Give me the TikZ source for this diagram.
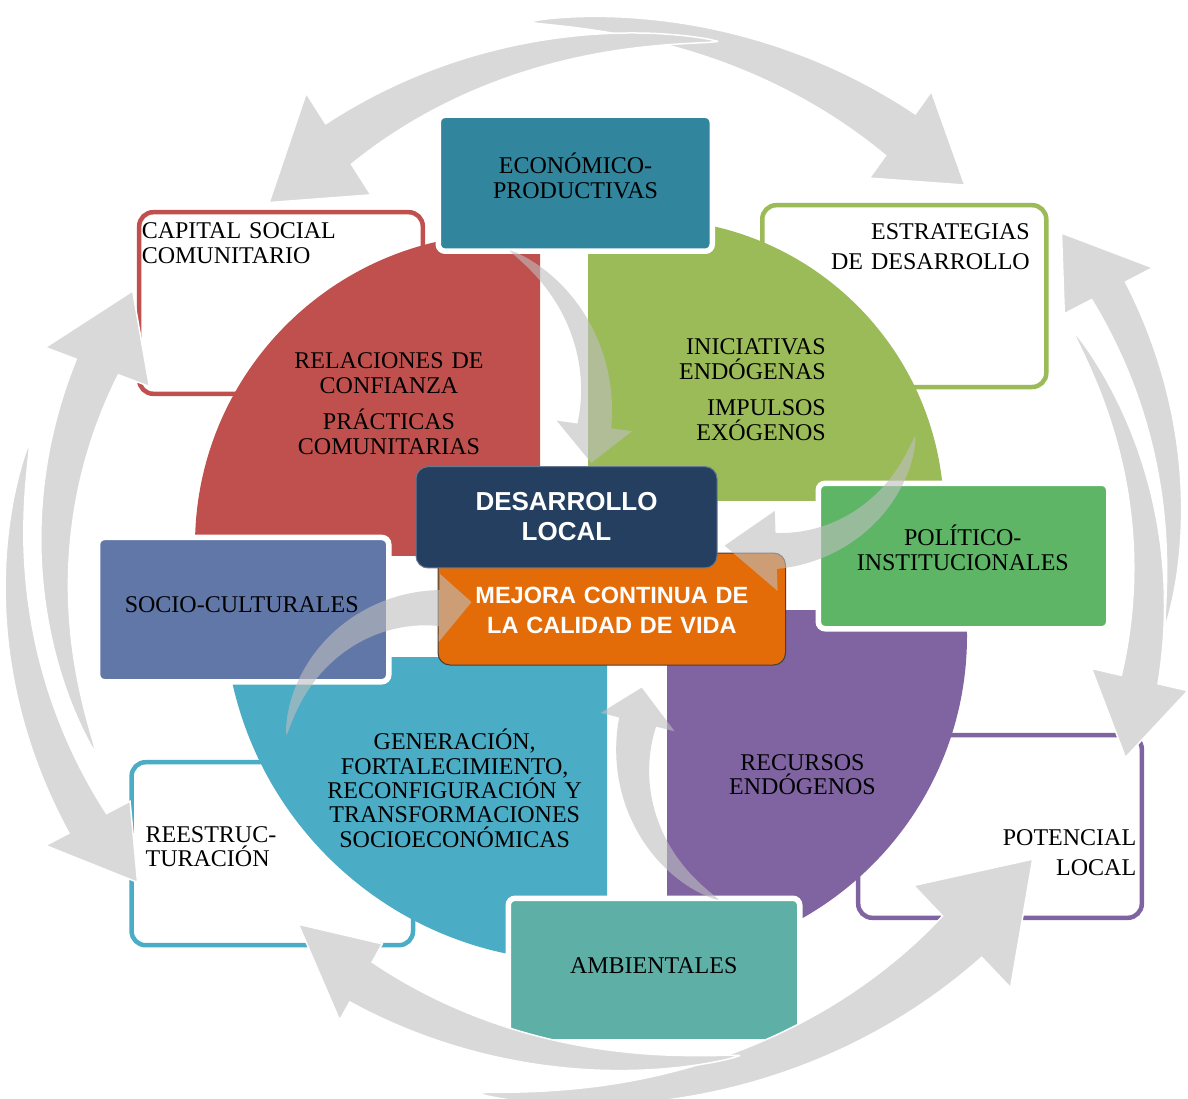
\documentclass[tikz,border=0pt]{standalone}
\usepackage{fontspec}
\setmainfont{Liberation Serif}
\newfontfamily\hsans{Liberation Sans}
\definecolor{cRed}{HTML}{C0504D}
\definecolor{cGreen}{HTML}{9BBB59}
\definecolor{cBlue}{HTML}{4BACC6}
\definecolor{cPurple}{HTML}{8064A2}
\definecolor{cEcon}{HTML}{31859C}
\definecolor{cPol}{HTML}{5DB565}
\definecolor{cSoc}{HTML}{6077A8}
\definecolor{cAmb}{HTML}{5EAFA5}
\definecolor{cNavy}{HTML}{243F60}
\definecolor{cOrange}{HTML}{E36C09}
\definecolor{cGray}{HTML}{D9D9D9}
\definecolor{cInner}{HTML}{BFBFBF}
\tikzset{
  outlinebox/.style={draw=#1, line width=4.5pt, fill=white, rounded corners=14pt, inner sep=0pt},
  solidbox/.style={fill=#1, draw=white, line width=5.5pt, rounded corners=7pt, inner sep=0pt},
  lbl/.style={font=\fontsize{24}{25}\selectfont, inner sep=0pt, text=black},
  wlbl/.style={font=\hsans\bfseries\fontsize{#1}{30}\selectfont, inner sep=0pt, text=white, align=center},
  ringarrow/.style={fill=cGray, draw=white, line width=1.5pt},
  innerarrow/.style={fill=cInner, fill opacity=0.6, draw=none},
}
% #2 tail angle, #3 head-base angle, #4 tip angle, #5 tail radius,
% #6 base mid radius, #7 band width at base, #8 head half width, #9 tip radius
\newcommand\tarrow[9][ringarrow]{%
  \path[#1] plot[domain=0.001:1,samples=50,variable=\t]
    ({(#2)+\t*((#3)-(#2))}:{(#5)+\t*((#6)-(#5))+0.5*(#7)*\t^0.7})
    -- ({#3}:{(#6)+(#8)}) -- ({#4}:{#9}) -- ({#3}:{(#6)-(#8)})
    -- plot[domain=1:0.001,samples=50,variable=\t]
    ({(#2)+\t*((#3)-(#2))}:{(#5)+\t*((#6)-(#5))-0.5*(#7)*\t^0.7}) -- cycle;}
\begin{document}
\begin{tikzpicture}[x=1pt,y=-1pt]
\useasboundingbox (0,0) rectangle (1188,1099);
\fill[white] (0,0) rectangle (1188,1099);

% outline boxes
\node[outlinebox=cRed, minimum width=283.6pt, minimum height=181.6pt] (capital) at (281,303) {};
\node[outlinebox=cGreen, minimum width=284pt, minimum height=181.8pt] (estrat) at (904.25,296.1) {};
\node[outlinebox=cBlue, minimum width=281.4pt, minimum height=183pt] (reest) at (272.3,853.7) {};
\node[outlinebox=cPurple, minimum width=283.6pt, minimum height=182.6pt] (potenc) at (1000,826.5) {};

% quadrants
\begin{scope}
  \clip (0,0) rectangle (540,555);
  \fill[cRed] (506,545) circle (311);
\end{scope}
\begin{scope}
  \clip (588,0) rectangle (1188,500);
  \fill[cGreen] (648,515) circle (296);
\end{scope}
\begin{scope}
  \clip (0,657) rectangle (607,1099);
  \fill[cBlue] (579,606) circle (355);
\end{scope}
\begin{scope}
  \clip (667,610) rectangle (1188,1099);
  \fill[cPurple] (643,636) circle (324);
\end{scope}

% solid boxes
\node[solidbox=cEcon, minimum width=274pt, minimum height=136pt] (econ) at (575.25,183.25) {};
\node[solidbox=cPol, minimum width=290.5pt, minimum height=145.5pt] (polit) at (963.5,556) {};
\node[solidbox=cSoc, minimum width=291.2pt, minimum height=144.3pt] (socio) at (243.15,609.6) {};
\node[solidbox=cAmb, minimum width=291.5pt, minimum height=143.5pt] (ambient) at (654,970) {};

% outer ring arrows
\begin{scope}[shift={(600,555)}, yscale=-1, xscale=1.08]
  \tarrow{97}{56.5}{47.6}{537}{504}{50}{52}{501}
  \tarrow{78}{120.5}{131}{525}{477}{47}{59}{467}
  \tarrow{-7.7}{29.3}{37}{528}{540}{36}{47}{535}
  \tarrow{27.1}{-14}{-22.6}{492}{515}{35}{46}{527}
  \tarrow{258}{311.3}{322.8}{550}{508}{55}{68}{503}
  \tarrow{284.5}{242.6}{232.9}{517}{481}{45}{43}{463}
  \tarrow{203}{158}{148.6}{507}{502}{42}{52}{507}
  \tarrow{168}{209.5}{217.4}{540}{545}{40}{45}{539}
\end{scope}

% centre boxes
\node[fill=cOrange, draw=black!75, line width=1pt, rounded corners=12pt, minimum width=347.5pt, minimum height=112pt, inner sep=0pt] (mejora) at (611.75,609) {};
\node[fill=cNavy, draw=cNavy!70!white, line width=1pt, rounded corners=12pt, minimum width=301pt, minimum height=101.3pt, inner sep=0pt] (desarr) at (566.5,517.3) {};

% inner translucent arrows
\begin{scope}[shift={(424,402)}, yscale=-1]
  \tarrow[innerarrow]{60.5}{-8}{-20}{174}{172}{34}{38}{178}
\end{scope}
\begin{scope}[shift={(771,403)}, yscale=-1]
  \tarrow[innerarrow]{-13}{-88}{-108}{148}{148}{36}{40}{150}
\end{scope}
\begin{scope}[shift={(436,756)}, yscale=-1]
  \tarrow[innerarrow]{172}{88.7}{77}{151}{148}{36}{34}{158}
\end{scope}
\begin{scope}[shift={(790,760)}, yscale=-1]
  \tarrow[innerarrow]{243}{166}{154}{157}{157}{38}{38}{165}
\end{scope}

% texts
\node[lbl, text width=270pt, align=center, font=\fontsize{24}{24.5}\selectfont, anchor=base] (tEcon) at (575.5,173.6) {ECONÓMICO-\\PRODUCTIVAS};
\node[lbl, text width=270pt, align=left, font=\fontsize{24}{25.5}\selectfont, anchor=base west] (tCap) at (141.6,238.5) {CAPITAL SOCIAL\\COMUNITARIO};
\node[lbl, text width=270pt, align=right, font=\fontsize{24}{29.8}\selectfont, anchor=base east] (tEst) at (1030,239.6) {ESTRATEGIAS\\DE DESARROLLO};
\node[lbl, text width=260pt, align=center, font=\fontsize{24}{25}\selectfont, anchor=base] (tRel) at (389,368.3) {RELACIONES DE\\CONFIANZA\\[11pt]PRÁCTICAS\\COMUNITARIAS};
\node[lbl, text width=260pt, align=right, font=\fontsize{24}{25.2}\selectfont, anchor=base east] (tIni) at (826,354.3) {INICIATIVAS\\ENDÓGENAS\\[11pt]IMPULSOS\\EXÓGENOS};
\node[lbl, text width=280pt, align=center, font=\fontsize{24}{25.5}\selectfont, anchor=base] (tPol) at (962.8,545.4) {POLÍTICO-\\INSTITUCIONALES};
\node[lbl, text width=280pt, align=center, anchor=base] (tSoc) at (241.7,612.3) {SOCIO-CULTURALES};
\node[lbl, text width=300pt, align=center, font=\fontsize{24}{24.4}\selectfont, anchor=base] (tGen) at (454.7,749.6) {GENERACIÓN,\\FORTALECIMIENTO,\\RECONFIGURACIÓN Y\\TRANSFORMACIONES\\SOCIOECONÓMICAS};
\node[lbl, text width=250pt, align=left, font=\fontsize{24}{24.5}\selectfont, anchor=base west] (tRee) at (145.4,842.4) {REESTRUC-\\TURACIÓN};
\node[lbl, text width=250pt, align=center, font=\fontsize{24}{24.4}\selectfont, anchor=base] (tRec) at (802.5,770) {RECURSOS\\ENDÓGENOS};
\node[lbl, text width=250pt, align=right, font=\fontsize{24}{29.7}\selectfont, anchor=base east] (tPot) at (1136.4,845.9) {POTENCIAL\\LOCAL};
\node[lbl, text width=280pt, align=center, anchor=base] (tAmb) at (653.7,973.7) {AMBIENTALES};
\node[wlbl=26, text width=290pt, anchor=base] (tDes) at (566.5,510.7) {DESARROLLO\\LOCAL};
\node[wlbl=23.5, text width=340pt, anchor=base] (tMej) at (611.9,603) {MEJORA CONTINUA DE\\LA CALIDAD DE VIDA};
\end{tikzpicture}
\end{document}
